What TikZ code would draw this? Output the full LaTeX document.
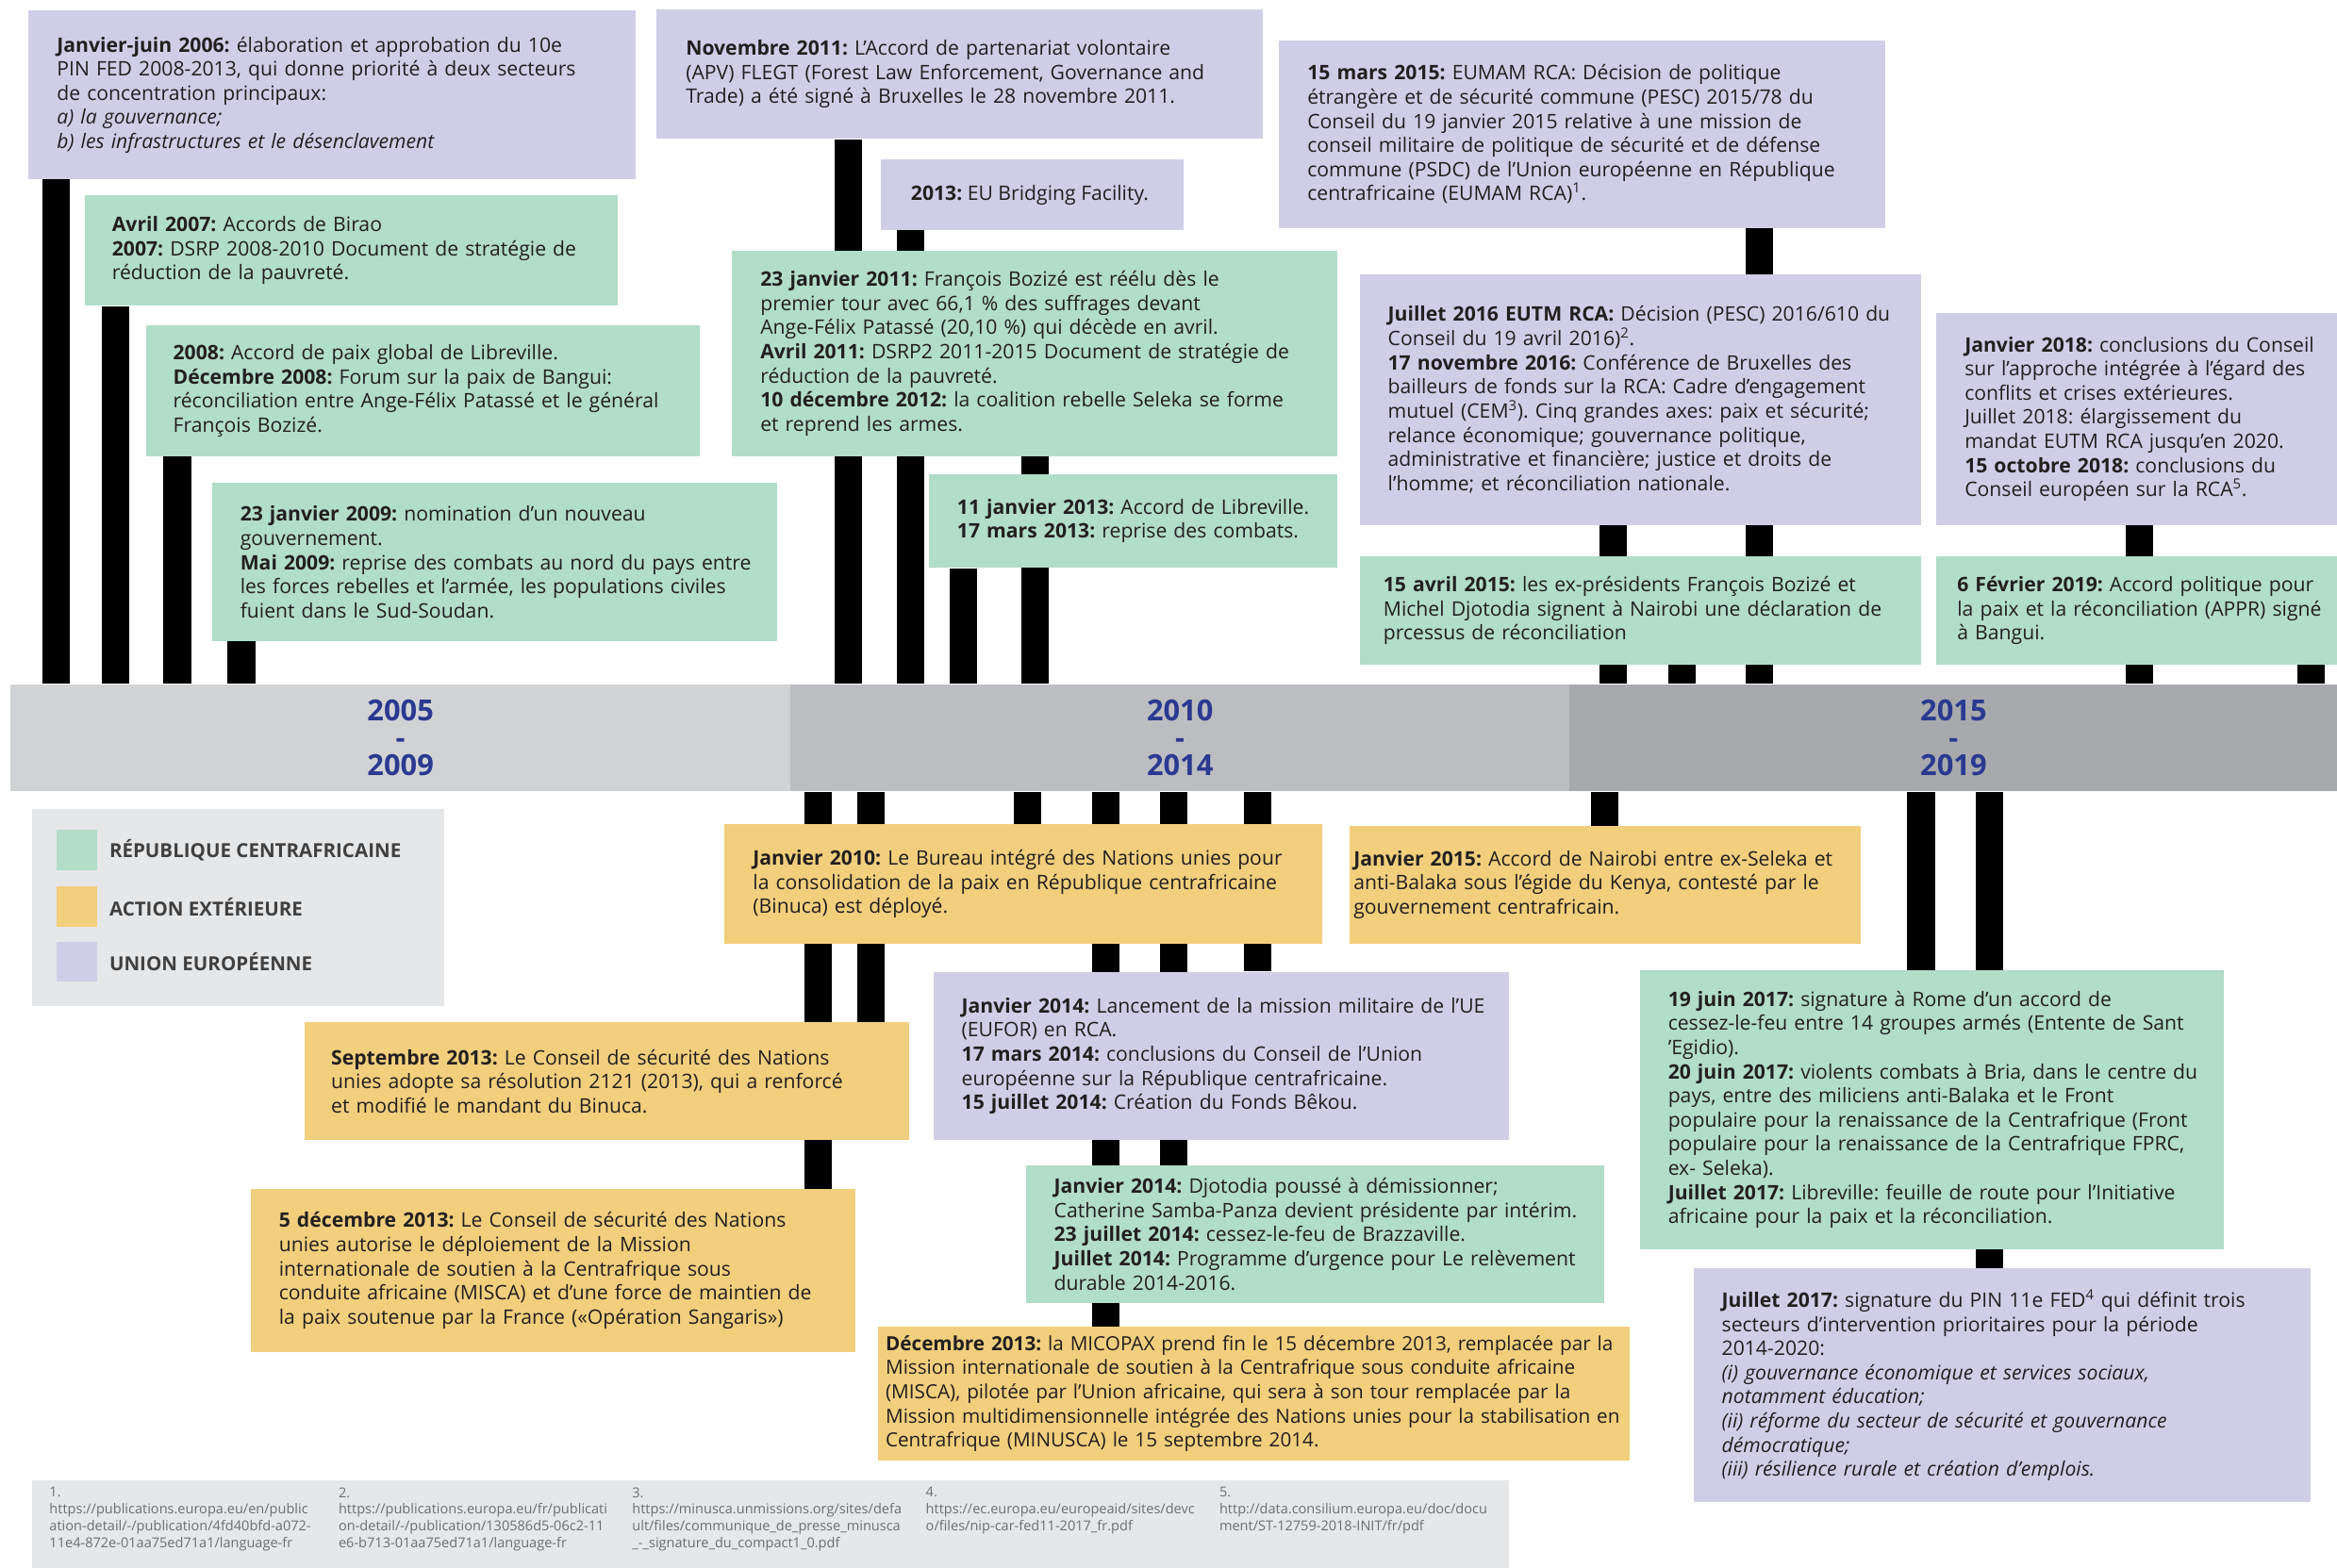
\documentclass[tikz,border=0pt]{standalone}
\usepackage{fontspec}
\setmainfont{Open Sans}
\usetikzlibrary{positioning,backgrounds}
\frenchspacing

\begin{document}
\begin{tikzpicture}[x=1pt, y=-1pt,
    evt/.style={anchor=north west, inner ysep=0pt, align=left, text=ink,
        font=\fontsize{13.4}{16.2}\selectfont,
        execute at begin node={\rightskip=-40pt plus 1fil\relax}},
    rca/.style={evt, fill=rca_green},
    ext/.style={evt, fill=ext_yellow},
    eu/.style={evt, fill=eu_lilac},
    period/.style={anchor=north west, minimum height=72pt, inner sep=0pt,
        align=center, text=period_blue, font=\fontsize{19.5}{18.5}\selectfont\bfseries},
    tickbar/.style={draw=black, line width=18.5pt},
    key/.style={minimum size=27pt, inner sep=0pt},
    keylabel/.style={inner sep=0pt, text=key_grey, font=\fontsize{13}{15}\selectfont\bfseries},
    note/.style={anchor=north west, inner sep=0pt, align=left, text=note_grey,
        font=\fontsize{9.2}{11.3}\selectfont}]
    \definecolor{rca_green}{HTML}{B2DDC7}
    \definecolor{ext_yellow}{HTML}{F2CF7D}
    \definecolor{eu_lilac}{HTML}{D0CEE7}
    \definecolor{ink}{HTML}{231F20}
    \definecolor{period_blue}{HTML}{2B3990}
    \definecolor{band_a}{HTML}{D1D2D4}
    \definecolor{band_b}{HTML}{BCBDC0}
    \definecolor{band_c}{HTML}{A7A9AC}
    \definecolor{legend_grey}{HTML}{E6E7E8}
    \definecolor{key_grey}{HTML}{404041}
    \definecolor{note_grey}{HTML}{6D6E71}
    \useasboundingbox (0,0) rectangle (1568,1052);

    % time band
    \node[period, fill=band_a, minimum width=523pt] (band1) at (7,459) {2005\\-\\2009};
    \node[period, fill=band_b, minimum width=523pt] (band2) at (530,459) {2010\\-\\2014};
    \node[period, fill=band_c, minimum width=515pt] (band3) at (1053,459) {2015\\-\\2019};

    % above the band
    \node[eu, text width=369pt, inner xsep=19pt, minimum height=113pt] (e06) at (19,7) {
        \textbf{Janvier-juin 2006:} élaboration et approbation du 10e\\
        PIN FED 2008-2013, qui donne priorité à deux secteurs\\
        de concentration principaux:\\
        \textit{a) la gouvernance;}\\
        \textit{b) les infrastructures et le désenclavement}
    };
    \node[rca, text width=321pt, inner xsep=18pt, minimum height=74pt] (avr07) at (57,131) {
        \textbf{Avril 2007:} Accords de Birao\\
        \textbf{2007:} DSRP 2008-2010 Document de stratégie de\\
        réduction de la pauvreté.
    };
    \node[rca, text width=335pt, inner xsep=18pt, minimum height=88pt] (lib08) at (98,218) {
        \textbf{2008:} Accord de paix global de Libreville.\\
        \textbf{Décembre 2008:} Forum sur la paix de Bangui:\\
        réconciliation entre Ange-Félix Patassé et le général\\
        François Bozizé.
    };
    \node[rca, text width=341pt, inner xsep=19pt, minimum height=106pt] (jan09) at (142,324) {
        \textbf{23 janvier 2009:} nomination d’un nouveau\\
        gouvernement.\\
        \textbf{Mai 2009:} reprise des combats au nord du pays entre\\
        les forces rebelles et l’armée, les populations civiles\\
        fuient dans le Sud-Soudan.
    };
    \node[eu, text width=367pt, inner xsep=20pt, minimum height=87pt] (nov11) at (440,6) {
        \textbf{Novembre 2011:} L’Accord de partenariat volontaire\\
        (APV) FLEGT (Forest Law Enforcement, Governance and\\
        Trade) a été signé à Bruxelles le 28 novembre 2011.
    };
    \node[eu, minimum width=203pt, minimum height=47pt] (bridge13) at (591,107) {
        \textbf{2013:} EU Bridging Facility.
    };
    \node[rca, text width=368pt, inner xsep=19pt, minimum height=138pt] (jan11) at (491,168) {
        \textbf{23 janvier 2011:} François Bozizé est réélu dès le\\
        premier tour avec 66,1 \% des suffrages devant\\
        Ange-Félix Patassé (20,10 \%) qui décède en avril.\\
        \textbf{Avril 2011:} DSRP2 2011-2015 Document de stratégie de\\
        réduction de la pauvreté.\\
        \textbf{10 décembre 2012:} la coalition rebelle Seleka se forme\\
        et reprend les armes.
    };
    \node[rca, text width=236pt, inner xsep=19pt, minimum height=63pt] (jan13) at (623,318) {
        \textbf{11 janvier 2013:} Accord de Libreville.\\
        \textbf{17 mars 2013:} reprise des combats.
    };
    \node[eu, text width=369pt, inner xsep=19pt, minimum height=126pt] (mar15) at (858,27) {
        \textbf{15 mars 2015:} EUMAM RCA: Décision de politique\\
        étrangère et de sécurité commune (PESC) 2015/78 du\\
        Conseil du 19 janvier 2015 relative à une mission de\\
        conseil militaire de politique de sécurité et de défense\\
        commune (PSDC) de l’Union européenne en République\\
        centrafricaine (EUMAM RCA)\textsuperscript{1}.
    };
    \node[eu, text width=339pt, inner xsep=19pt, minimum height=168pt] (jul16) at (912,184) {
        \textbf{Juillet 2016 EUTM RCA:} Décision (PESC) 2016/610 du\\
        Conseil du 19 avril 2016)\textsuperscript{2}.\\
        \textbf{17 novembre 2016:} Conférence de Bruxelles des\\
        bailleurs de fonds sur la RCA: Cadre d’engagement\\
        mutuel (CEM\textsuperscript{3}). Cinq grandes axes: paix et sécurité;\\
        relance économique; gouvernance politique,\\
        administrative et financière; justice et droits de\\
        l’homme; et réconciliation nationale.
    };
    \node[rca, text width=345pt, inner xsep=16pt, minimum height=73pt] (avr15) at (912,373) {
        \textbf{15 avril 2015:} les ex-présidents François Bozizé et\\
        Michel Djotodia signent à Nairobi une déclaration de\\
        prcessus de réconciliation
    };
    \node[eu, text width=252pt, inner xsep=19pt, minimum height=142pt] (jan18) at (1299,210) {
        \textbf{Janvier 2018:} conclusions du Conseil\\
        sur l’approche intégrée à l’égard des\\
        conflits et crises extérieures.\\
        Juillet 2018: élargissement du\\
        mandat EUTM RCA jusqu’en 2020.\\
        \textbf{15 octobre 2018:} conclusions du\\
        Conseil européen sur la RCA\textsuperscript{5}.
    };
    \node[rca, text width=262pt, inner xsep=14pt, minimum height=73pt] (fev19) at (1299,373) {
        \textbf{6 Février 2019:} Accord politique pour\\
        la paix et la réconciliation (APPR) signé\\
        à Bangui.
    };

    % below the band
    \node[ext, text width=363pt, inner xsep=19pt, minimum height=80pt] (jan10) at (486,553) {
        \textbf{Janvier 2010:} Le Bureau intégré des Nations unies pour\\
        la consolidation de la paix en République centrafricaine\\
        (Binuca) est déployé.
    };
    \node[ext, text width=337pt, inner xsep=3pt, minimum height=79pt] (jan15) at (905,554) {
        \textbf{Janvier 2015:} Accord de Nairobi entre ex-Seleka et\\
        anti-Balaka sous l’égide du Kenya, contesté par le\\
        gouvernement centrafricain.
    };
    \node[eu, text width=348pt, inner xsep=19pt, minimum height=113pt] (jan14eu) at (626,652) {
        \textbf{Janvier 2014:} Lancement de la mission militaire de l’UE\\
        (EUFOR) en RCA.\\
        \textbf{17 mars 2014:} conclusions du Conseil de l’Union\\
        européenne sur la République centrafricaine.\\
        \textbf{15 juillet 2014:} Création du Fonds Bêkou.
    };
    \node[ext, text width=370pt, inner xsep=18pt, minimum height=79pt] (sep13) at (204,686) {
        \textbf{Septembre 2013:} Le Conseil de sécurité des Nations\\
        unies adopte sa résolution 2121 (2013), qui a renforcé\\
        et modifié le mandant du Binuca.
    };
    \node[ext, text width=368pt, inner xsep=19pt, minimum height=109pt] (dec13un) at (168,798) {
        \textbf{5 décembre 2013:} Le Conseil de sécurité des Nations\\
        unies autorise le déploiement de la Mission\\
        internationale de soutien à la Centrafrique sous\\
        conduite africaine (MISCA) et d’une force de maintien de\\
        la paix soutenue par la France («Opération Sangaris»)
    };
    \node[rca, text width=350pt, inner xsep=19pt, minimum height=92pt] (jan14rca) at (688,782) {
        \textbf{Janvier 2014:} Djotodia poussé à démissionner;\\
        Catherine Samba-Panza devient présidente par intérim.\\
        \textbf{23 juillet 2014:} cessez-le-feu de Brazzaville.\\
        \textbf{Juillet 2014:} Programme d’urgence pour Le relèvement\\
        durable 2014-2016.
    };
    \node[ext, text width=494pt, inner xsep=5pt, minimum height=90pt,
        font=\fontsize{13.1}{16.2}\selectfont] (dec13) at (589,890) {
        \textbf{Décembre 2013:} la MICOPAX prend fin le 15 décembre 2013, remplacée par la\\
        Mission internationale de soutien à la Centrafrique sous conduite africaine\\
        (MISCA), pilotée par l'Union africaine, qui sera à son tour remplacée par la\\
        Mission multidimensionnelle intégrée des Nations unies pour la stabilisation en\\
        Centrafrique (MINUSCA) le 15 septembre 2014.
    };
    \node[rca, text width=354pt, inner xsep=19pt, minimum height=187pt] (jun17) at (1100,651) {
        \textbf{19 juin 2017:} signature à Rome d’un accord de\\
        cessez-le-feu entre 14 groupes armés (Entente de Sant\\
        ’Egidio).\\
        \textbf{20 juin 2017:} violents combats à Bria, dans le centre du\\
        pays, entre des miliciens anti-Balaka et le Front\\
        populaire pour la renaissance de la Centrafrique (Front\\
        populaire pour la renaissance de la Centrafrique FPRC,\\
        ex- Seleka).\\
        \textbf{Juillet 2017:} Libreville: feuille de route pour l’Initiative\\
        africaine pour la paix et la réconciliation.
    };
    \node[eu, text width=376pt, inner xsep=19pt, minimum height=157pt] (jul17) at (1136,851) {
        \textbf{Juillet 2017:} signature du PIN 11e FED\textsuperscript{4} qui définit trois\\
        secteurs d’intervention prioritaires pour la période\\
        2014-2020:\\
        \textit{(i) gouvernance économique et services sociaux,}\\
        \textit{notamment éducation;}\\
        \textit{(ii) réforme du secteur de sécurité et gouvernance}\\
        \textit{démocratique;}\\
        \textit{(iii) résilience rurale et création d’emplois.}
    };

    % legend
    \node[anchor=north west, fill=legend_grey, minimum width=277pt, minimum height=132pt, inner sep=0pt] (legend) at (21,543) {};
    \node[key, fill=rca_green] (key_rca) at (51.5,570.5) {};
    \node[key, fill=ext_yellow] (key_ext) at (51.5,608.5) {};
    \node[key, fill=eu_lilac] (key_eu) at (51.5,645.5) {};
    \node[keylabel, right=8pt of key_rca] (lab_rca) {RÉPUBLIQUE CENTRAFRICAINE};
    \node[keylabel, right=8pt of key_ext] (lab_ext) {ACTION EXTÉRIEURE};
    \node[keylabel, right=8pt of key_eu] (lab_eu) {UNION EUROPÉENNE};

    % notes
    \node[anchor=north west, fill=legend_grey, minimum width=991pt, minimum height=62pt, inner sep=0pt] (notes) at (21,993) {};
    \node[note] (note1) at (33,998) {1.\\https://publications.europa.eu/en/public\\ation-detail/-/publication/4fd40bfd-a072-\\11e4-872e-01aa75ed71a1/language-fr};
    \node[note] (note2) at (227,998) {2.\\https://publications.europa.eu/fr/publicati\\on-detail/-/publication/130586d5-06c2-11\\e6-b713-01aa75ed71a1/language-fr};
    \node[note] (note3) at (424,998) {3.\\https://minusca.unmissions.org/sites/defa\\ult/files/communique\_de\_presse\_minusca\\\_-\_signature\_du\_compact1\_0.pdf};
    \node[note] (note4) at (621,998) {4.\\https://ec.europa.eu/europeaid/sites/devc\\o/files/nip-car-fed11-2017\_fr.pdf};
    \node[note] (note5) at (818,998) {5.\\http://data.consilium.europa.eu/doc/docu\\ment/ST-12759-2018-INIT/fr/pdf};

    % bars to the band
    \begin{scope}[on background layer]
        \draw[tickbar] (37.5,0 |- e06.south) -- (37.5,0 |- band1.north);
        \draw[tickbar] (77.5,0 |- avr07.south) -- (77.5,0 |- band1.north);
        \draw[tickbar] (119,0 |- lib08.south) -- (119,0 |- band1.north);
        \draw[tickbar] (162,0 |- jan09.south) -- (162,0 |- band1.north);
        \draw[tickbar] (569,0 |- nov11.south) -- (569,0 |- band2.north);
        \draw[tickbar] (611,0 |- bridge13.south) -- (611,0 |- band2.north);
        \draw[tickbar] (646.5,0 |- jan13.south) -- (646.5,0 |- band2.north);
        \draw[tickbar] (694.5,0 |- jan11.south) -- (694.5,0 |- band2.north);
        \draw[tickbar] (1082.5,0 |- jul16.south) -- (1082.5,0 |- band3.north);
        \draw[tickbar] (1128.5,0 |- avr15.south) -- (1128.5,0 |- band3.north);
        \draw[tickbar] (1180.5,0 |- mar15.south) -- (1180.5,0 |- band3.north);
        \draw[tickbar] (1435.5,0 |- jan18.south) -- (1435.5,0 |- band3.north);
        \draw[tickbar] (1550.5,0 |- fev19.south) -- (1550.5,0 |- band3.north);

        \draw[tickbar] (549,0 |- band2.south) -- (549,0 |- dec13un.north);
        \draw[tickbar] (584.5,0 |- band2.south) -- (584.5,0 |- sep13.north);
        \draw[tickbar] (689.5,0 |- band2.south) -- (689.5,0 |- jan10.north);
        \draw[tickbar] (742,0 |- band2.south) -- (742,0 |- dec13.north);
        \draw[tickbar] (787.5,0 |- band2.south) -- (787.5,0 |- jan14rca.north);
        \draw[tickbar] (844,0 |- band2.south) -- (844,0 |- jan14eu.north);
        \draw[tickbar] (1076.5,0 |- band3.south) -- (1076.5,0 |- jan15.north);
        \draw[tickbar] (1289,0 |- band3.south) -- (1289,0 |- jun17.north);
        \draw[tickbar] (1335,0 |- band3.south) -- (1335,0 |- jul17.north);
    \end{scope}
\end{tikzpicture}
\end{document}
